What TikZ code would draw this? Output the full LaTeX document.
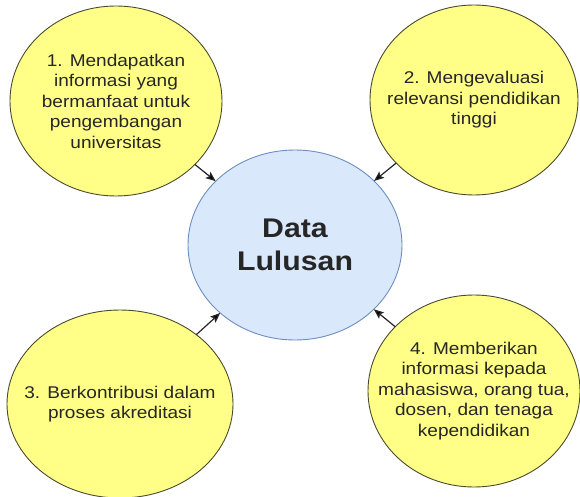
\documentclass[tikz,border=0pt]{standalone}
\usepackage{fontspec}
\setmainfont[FakeStretch=1.12]{Liberation Sans}
\usetikzlibrary{positioning,shapes,arrows.meta}

\definecolor{goalfill}{HTML}{FFFF88}
\definecolor{goalline}{HTML}{4A4A30}
\definecolor{datafill}{HTML}{DAE8FC}
\definecolor{dataline}{HTML}{6C8EBF}

\begin{document}
\begin{tikzpicture}[x=1pt,y=-1pt]
    \tikzstyle{every node}=[inner sep=0,outer sep=0]
    \tikzstyle{goal}=[ellipse,draw=goalline,fill=goalfill,line width=0.9pt,minimum width=212,minimum height=190]
    \tikzstyle{data}=[ellipse,draw=dataline,fill=datafill,line width=0.9pt,minimum width=214,minimum height=190]
    \tikzstyle{note}=[draw=none,fill=none,align=center,text=black!85,font=\fontsize{17}{20.5}\selectfont]
    \tikzstyle{title}=[note,font=\fontsize{27}{33}\selectfont\bfseries]
    \useasboundingbox (0,0) rectangle (580,497);
    {
        \node[data] (dl) at (295,245) {};
        \node[title] (dlt) at (dl) {Data\\Lulusan};

        \node[goal] (g1) at (116,101) {};
        \node[goal,minimum width=208] (g2) at (474,100) {};
        \node[goal,minimum width=226,minimum height=188] (g3) at (120,404) {};
        \node[goal,minimum height=192] (g4) at (474,391) {};

        \node[note] (g1t) at (g1) {1. Mendapatkan\\informasi yang\\bermanfaat untuk\\pengembangan\\universitas};
        \node[note] (g2t) at (g2) {2. Mengevaluasi\\relevansi pendidikan\\tinggi};
        \node[note] (g3t) at (g3) {3. Berkontribusi dalam\\proses akreditasi};
        \node[note] (g4t) at (g4) {4. Memberikan\\informasi kepada\\mahasiswa, orang tua,\\dosen, dan tenaga\\kependidikan};

        \path[->,>={Stealth[length=10pt,width=8pt,inset=2pt]},line width=1.2pt,draw=black!85]
            (g1) edge (dl)
            (g2) edge (dl)
            (g3) edge (dl)
            (g4) edge (dl);
    }
\end{tikzpicture}
\end{document}
